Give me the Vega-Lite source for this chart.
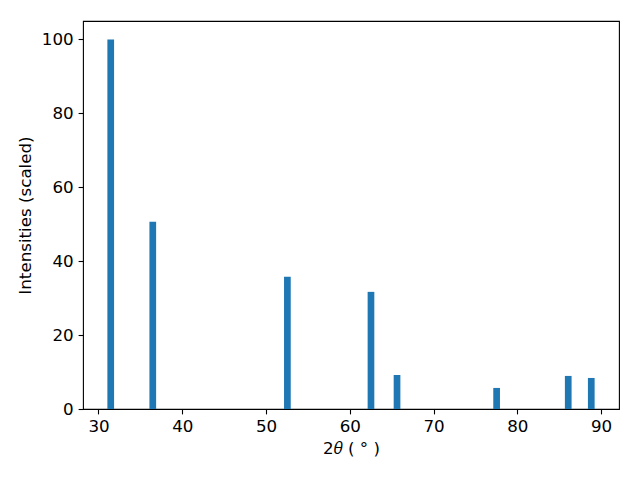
{
  "$schema": "https://vega.github.io/schema/vega-lite/v6.json",
  "width": 536,
  "height": 388,
  "autosize": {"type": "none"},
  "padding": {"left": 83, "top": 21, "right": 21, "bottom": 71},
  "background": "white",
  "config": {
    "view": {"stroke": "black", "strokeWidth": 1.1},
    "axis": {
      "domain": false,
      "grid": false,
      "tickColor": "black",
      "tickSize": 4.9,
      "tickWidth": 1.1,
      "labelFont": "DejaVu Sans",
      "labelFontSize": 16.7,
      "labelColor": "black",
      "labelPadding": 4.9,
      "titleFont": "DejaVu Sans",
      "titleFontSize": 16.7,
      "titleFontWeight": "normal",
      "titleColor": "black"
    }
  },
  "data": {
    "values": [
      {"two_theta": 31.46, "intensity": 100},
      {"two_theta": 36.48, "intensity": 50.7},
      {"two_theta": 52.55, "intensity": 35.8},
      {"two_theta": 62.53, "intensity": 31.7},
      {"two_theta": 65.64, "intensity": 9.2},
      {"two_theta": 77.53, "intensity": 5.7},
      {"two_theta": 86.08, "intensity": 8.95},
      {"two_theta": 88.83, "intensity": 8.4}
    ]
  },
  "mark": {"type": "bar", "color": "#1f77b4", "width": 6.7, "clip": true},
  "encoding": {
    "x": {
      "field": "two_theta",
      "type": "quantitative",
      "scale": {"domain": [28.15, 92.14], "nice": false, "zero": false, "padding": 0},
      "axis": {"values": [30, 40, 50, 60, 70, 80, 90], "title": "2𝜃 ( ° )", "titlePadding": 5, "labelFlush": false}
    },
    "y": {
      "field": "intensity",
      "type": "quantitative",
      "scale": {"domain": [0, 105], "nice": false, "padding": 0},
      "axis": {"values": [0, 20, 40, 60, 80, 100], "title": "Intensities (scaled)", "titlePadding": 7, "labelFlush": false}
    }
  }
}
